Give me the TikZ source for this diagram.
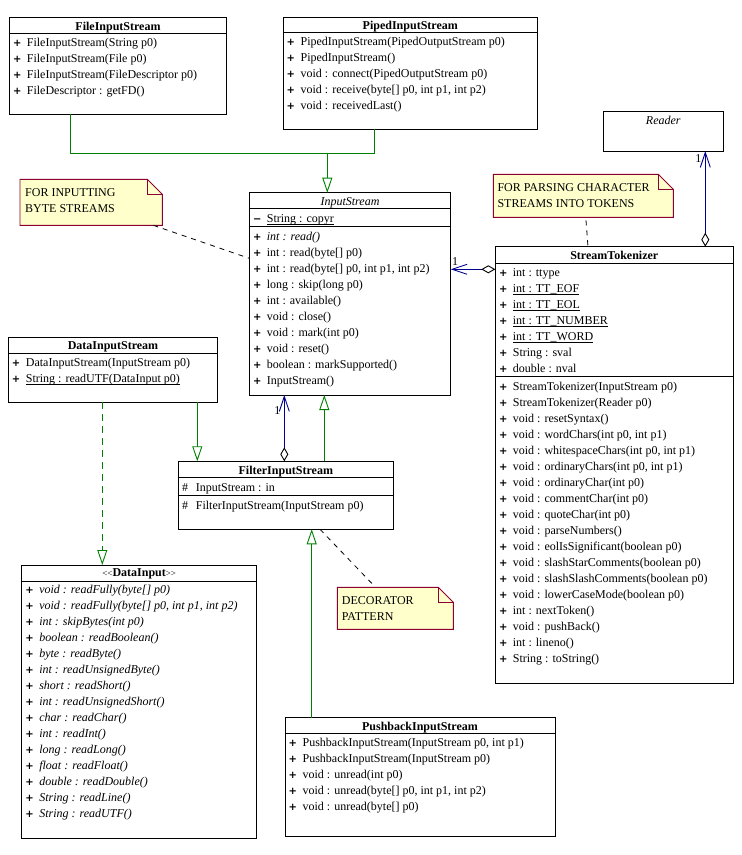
\documentclass[tikz,border=0pt]{standalone}
\usepackage{fontspec}
\setmainfont{Liberation Serif}
\newfontfamily\plusfont{DejaVu Sans}
\usetikzlibrary{arrows.meta}
\definecolor{umlgreen}{RGB}{0,128,0}
\definecolor{umlblue}{RGB}{0,0,140}
\definecolor{notefill}{RGB}{255,255,204}
\definecolor{noteline}{RGB}{140,0,50}
\newcommand\pl{\makebox[13.9pt][l]{\plusfont\bfseries\upshape\fontsize{10}{16}\selectfont +}}
\newcommand\mi{\makebox[13.9pt][l]{\plusfont\bfseries\upshape\fontsize{10}{16}\selectfont −}}
\newcommand\hs{\makebox[13.9pt][l]{\#}}
\newcommand\ulx[1]{\setbox0\hbox{#1}\rlap{\rule[-1.8pt]{\wd0}{0.8pt}}\box0}
\begin{document}
\begin{tikzpicture}[x=1pt,y=-1pt,
  box/.style={draw, line width=0.9pt, anchor=north west, inner sep=0pt, outer sep=0pt},
  sep/.style={line width=0.9pt},
  rows/.style={anchor=north west, inner sep=0pt, align=left, font=\fontsize{12}{16}\selectfont},
  ttl/.style={anchor=base, inner sep=0pt, font=\fontsize{12}{16}\selectfont\bfseries},
  ittl/.style={anchor=base, inner sep=0pt, font=\fontsize{12}{16}\selectfont\itshape},
  genline/.style={umlgreen, line width=0.9pt},
  gen/.style={umlgreen, line width=0.9pt, -{Triangle[length=15pt,width=10pt,fill=white]}},
  assoc/.style={umlblue, line width=0.9pt, {Diamond[length=14pt,width=8pt,fill=white,color=black]}-{Straight Barb[length=15pt,width=10pt]}},
  lbl/.style={inner sep=0pt, font=\fontsize{12}{16}\selectfont},
  notebox/.style={anchor=north west, inner sep=0pt, outer sep=0pt},
  noteshape/.style={draw=noteline, fill=notefill, line width=0.9pt},
  notefold/.style={draw=noteline, line width=0.9pt},
  notedash/.style={black, line width=0.8pt, dash pattern=on 5pt off 5pt}
]
\fill[white] (0,0) rectangle (742,855);
\useasboundingbox (0,0) rectangle (742,855);

% ---------- FileInputStream
\node[box, minimum width=217.4pt, minimum height=97pt] (fis) at (9.3,17.3) {};
\node[ttl] (fist) at (118,30) {FileInputStream};
\draw[sep] (fis.west |- 0,33.3) -- (fis.east |- 0,33.3);
\node[rows] (fiso) at (12.8,35.5) {\strut\pl FileInputStream(String p0)\\
\pl FileInputStream(File p0)\\
\pl FileInputStream(FileDescriptor p0)\\
\pl FileDescriptor : getFD()};

% ---------- PipedInputStream
\node[box, minimum width=254.7pt, minimum height=112.3pt] (pis) at (283,17) {};
\node[ttl] (pist) at (410.3,29.7) {PipedInputStream};
\draw[sep] (pis.west |- 0,32.7) -- (pis.east |- 0,32.7);
\node[rows] (piso) at (286.5,34.5) {\strut\pl PipedInputStream(PipedOutputStream p0)\\
\pl PipedInputStream()\\
\pl void : connect(PipedOutputStream p0)\\
\pl void : receive(byte[] p0, int p1, int p2)\\
\pl void : receivedLast()};

% ---------- InputStream
\node[box, minimum width=201.4pt, minimum height=202.3pt] (is) at (249.3,192.7) {};
\node[ittl] (ist) at (350,205) {InputStream};
\draw[sep] (is.west |- 0,208.3) -- (is.east |- 0,208.3);
\draw[sep] (is.west |- 0,226.7) -- (is.east |- 0,226.7);
\node[rows] (isa) at (252.8,211.1) {\strut\mi\ulx{String : copyr}};
\node[rows] (iso) at (252.8,228.8) {\strut\pl\textit{int : read()}\\
\pl int : read(byte[] p0)\\
\pl int : read(byte[] p0, int p1, int p2)\\
\pl long : skip(long p0)\\
\pl int : available()\\
\pl void : close()\\
\pl void : mark(int p0)\\
\pl void : reset()\\
\pl boolean : markSupported()\\
\pl InputStream()};

% ---------- Reader
\node[box, minimum width=120pt, minimum height=39.3pt] (reader) at (603.3,111.7) {};
\node[ittl] (readert) at (663.3,124) {Reader};

% ---------- StreamTokenizer
\node[box, minimum width=238pt, minimum height=436.6pt] (st) at (495.3,246.7) {};
\node[ttl] (stt) at (614.3,259.7) {StreamTokenizer};
\draw[sep] (st.west |- 0,263.3) -- (st.east |- 0,263.3);
\draw[sep] (st.west |- 0,376.7) -- (st.east |- 0,376.7);
\node[rows] (sta) at (498.8,265.5) {\strut\pl int : ttype\\
\pl\ulx{int : TT\_EOF}\\
\pl\ulx{int : TT\_EOL}\\
\pl\ulx{int : TT\_NUMBER}\\
\pl\ulx{int : TT\_WORD}\\
\pl String : sval\\
\pl double : nval};
\node[rows] (sto) at (498.8,379.5) {\strut\pl StreamTokenizer(InputStream p0)\\
\pl StreamTokenizer(Reader p0)\\
\pl void : resetSyntax()\\
\pl void : wordChars(int p0, int p1)\\
\pl void : whitespaceChars(int p0, int p1)\\
\pl void : ordinaryChars(int p0, int p1)\\
\pl void : ordinaryChar(int p0)\\
\pl void : commentChar(int p0)\\
\pl void : quoteChar(int p0)\\
\pl void : parseNumbers()\\
\pl void : eolIsSignificant(boolean p0)\\
\pl void : slashStarComments(boolean p0)\\
\pl void : slashSlashComments(boolean p0)\\
\pl void : lowerCaseMode(boolean p0)\\
\pl int : nextToken()\\
\pl void : pushBack()\\
\pl int : lineno()\\
\pl String : toString()};

% ---------- DataInputStream
\node[box, minimum width=209.4pt, minimum height=65pt] (dis) at (8.3,337.3) {};
\node[ttl] (dist) at (113,349.7) {DataInputStream};
\draw[sep] (dis.west |- 0,353.3) -- (dis.east |- 0,353.3);
\node[rows] (diso) at (11.8,355.5) {\strut\pl DataInputStream(InputStream p0)\\
\pl\ulx{String : readUTF(DataInput p0)}};

% ---------- FilterInputStream
\node[box, minimum width=215pt, minimum height=68pt] (fil) at (178.3,461.3) {};
\node[ttl] (filt) at (285.8,474) {FilterInputStream};
\draw[sep] (fil.west |- 0,477.7) -- (fil.east |- 0,477.7);
\draw[sep] (fil.west |- 0,495.3) -- (fil.east |- 0,495.3);
\node[rows] (fila) at (181.8,479.8) {\strut\hs InputStream : in};
\node[rows] (filo) at (181.8,497.8) {\strut\hs FilterInputStream(InputStream p0)};

% ---------- DataInput
\node[box, minimum width=235pt, minimum height=273.3pt] (di) at (21.7,565) {};
\node[anchor=base, inner sep=0pt, font=\fontsize{12}{16}\selectfont] (dit) at (139.2,576.8) {{\fontsize{9}{16}\selectfont<\kern0pt<}\textbf{DataInput}{\fontsize{9}{16}\selectfont>\kern0pt>}};
\draw[sep] (di.west |- 0,581) -- (di.east |- 0,581);
\node[rows, font=\fontsize{12}{16}\selectfont\itshape] (dio) at (25.2,582.1) {\strut\pl void : readFully(byte[] p0)\\
\pl void : readFully(byte[] p0, int p1, int p2)\\
\pl int : skipBytes(int p0)\\
\pl boolean : readBoolean()\\
\pl byte : readByte()\\
\pl int : readUnsignedByte()\\
\pl short : readShort()\\
\pl int : readUnsignedShort()\\
\pl char : readChar()\\
\pl int : readInt()\\
\pl long : readLong()\\
\pl float : readFloat()\\
\pl double : readDouble()\\
\pl String : readLine()\\
\pl String : readUTF()};

% ---------- PushbackInputStream
\node[box, minimum width=270pt, minimum height=119.2pt] (pbis) at (285,717.5) {};
\node[ttl] (pbist) at (420,730) {PushbackInputStream};
\draw[sep] (pbis.west |- 0,733.5) -- (pbis.east |- 0,733.5);
\node[rows] (pbiso) at (288.5,735.3) {\strut\pl PushbackInputStream(InputStream p0, int p1)\\
\pl PushbackInputStream(InputStream p0)\\
\pl void : unread(int p0)\\
\pl void : unread(byte[] p0, int p1, int p2)\\
\pl void : unread(byte[] p0)};

% ---------- Notes
\node[notebox, minimum width=142.3pt, minimum height=46pt] (n1) at (20,179.3) {};
\draw[noteshape] (n1.north west) -- ([xshift=-15pt]n1.north east) -- ([yshift=-15pt]n1.north east) -- (n1.south east) -- (n1.south west) -- cycle;
\draw[notefold] ([xshift=-15pt]n1.north east) -- ([xshift=-15pt,yshift=-15pt]n1.north east) -- ([yshift=-15pt]n1.north east);
\node[rows] (n1t) at (25,185.5) {\strut FOR INPUTTING\\BYTE STREAMS};

\node[notebox, minimum width=180pt, minimum height=43pt] (n2) at (493.3,174.3) {};
\draw[noteshape] (n2.north west) -- ([xshift=-15pt]n2.north east) -- ([yshift=-15pt]n2.north east) -- (n2.south east) -- (n2.south west) -- cycle;
\draw[notefold] ([xshift=-15pt]n2.north east) -- ([xshift=-15pt,yshift=-15pt]n2.north east) -- ([yshift=-15pt]n2.north east);
\node[rows] (n2t) at (497.3,180.1) {\strut FOR PARSING CHARACTER\\STREAMS INTO TOKENS};

\node[notebox, minimum width=116pt, minimum height=42pt] (n3) at (337.3,587.3) {};
\draw[noteshape] (n3.north west) -- ([xshift=-15pt]n3.north east) -- ([yshift=-15pt]n3.north east) -- (n3.south east) -- (n3.south west) -- cycle;
\draw[notefold] ([xshift=-15pt]n3.north east) -- ([xshift=-15pt,yshift=-15pt]n3.north east) -- ([yshift=-15pt]n3.north east);
\node[rows] (n3t) at (341.7,593.1) {\strut DECORATOR\\PATTERN};

% ---------- note links
\draw[notedash] ([xshift=-9pt]n1.south east) -- (is.west |- 0,258.3);
\draw[notedash] ([xshift=92.7pt,yshift=-3pt]n2.south west) -- ([xshift=92.7pt]st.north west);
\draw[notedash] ([xshift=141.7pt]fil.south west) -- ([xshift=35.4pt,yshift=3pt]n3.north west);

% ---------- generalizations
\coordinate (j1) at (327.3,153.3);
\coordinate (gx1) at (70.3,0);
\coordinate (gx2) at (374.7,0);
\draw[genline] (fis.south -| gx1) |- (j1);
\draw[genline] (pis.south -| gx2) |- (j1);
\draw[gen] (j1) -- (is.north -| j1);

\coordinate (gx3) at (102.3,0);
\coordinate (gx4) at (197.3,0);
\coordinate (gx5) at (324.3,0);
\coordinate (gx6) at (311.7,0);
\draw[gen, dash pattern=on 7pt off 5pt] (dis.south -| gx3) -- (di.north -| gx3);
\draw[gen] (dis.south -| gx4) -- (fil.north -| gx4);
\draw[gen] (fil.north -| gx5) -- (is.south -| gx5);
\draw[gen] (pbis.north -| gx6) -- (fil.south -| gx6);

% ---------- associations
\coordinate (ax1) at (284.3,0);
\coordinate (ay1) at (0,269.3);
\coordinate (ax2) at (705.3,0);
\draw[assoc] (fil.north -| ax1) -- (is.south -| ax1);
\draw[assoc] (st.west |- ay1) -- (is.east |- ay1);
\draw[assoc] (st.north -| ax2) -- (reader.south -| ax2);
\node[lbl] (m1) at (277.3,410.5) {1};
\node[lbl] (m2) at (455,262) {1};
\node[lbl] (m3) at (698.3,159) {1};
\end{tikzpicture}
\end{document}
